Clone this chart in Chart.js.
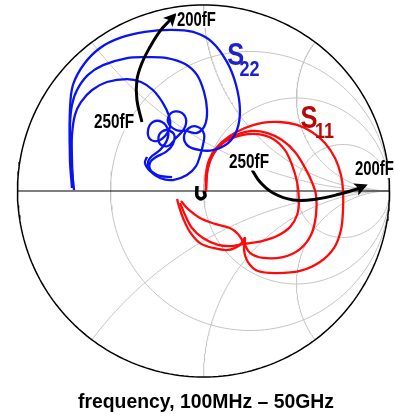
<!DOCTYPE html>
<html>
<head>
<meta charset="utf-8">
<script src="https://cdn.jsdelivr.net/npm/chart.js@4.4.1/dist/chart.umd.min.js"></script>
<style>
  html, body { margin: 0; padding: 0; background: #fff; }
  #smith { display: block; }
</style>
</head>
<body>
<canvas id="smith" width="395" height="419"></canvas>
<script>
// grille de l'abaque de Smith
const resistanceCircles = [1 / 3, 1, 3]
const reactanceArcs = [0.5, 1, 2, -0.5, -1, -2]

// S22 (bleu), trois valeurs de capacite, coefficient de reflexion [re, im]
const s22_200fF = [[-0.696,0.005],[-0.707,0.113],[-0.718,0.274],[-0.718,0.435],[-0.702,0.570],[-0.642,0.683],[-0.556,0.769],[-0.449,0.823],[-0.315,0.855],[-0.180,0.866],[-0.056,0.855],[0.046,0.801],[0.126,0.694],[0.175,0.570],[0.196,0.435],[0.180,0.328],[0.132,0.258],[0.051,0.220],[-0.019,0.220],[-0.083,0.242],[-0.105,0.290],[-0.078,0.339],[-0.030,0.344],[0.003,0.306],[-0.003,0.247],[-0.019,0.188],[-0.040,0.134],[-0.089,0.086],[-0.164,0.059],[-0.234,0.070],[-0.288,0.108],[-0.315,0.151],[-0.304,0.183]]
const s22_225fF = [[-0.707,0.016],[-0.718,0.167],[-0.718,0.355],[-0.707,0.462],[-0.680,0.543],[-0.621,0.624],[-0.540,0.677],[-0.411,0.715],[-0.304,0.720],[-0.196,0.715],[-0.099,0.683],[-0.035,0.624],[0.003,0.532],[0.019,0.435],[0.008,0.355],[-0.035,0.312],[-0.094,0.323],[-0.148,0.328],[-0.191,0.371],[-0.175,0.419],[-0.126,0.425],[-0.094,0.387],[-0.105,0.333],[-0.148,0.285],[-0.191,0.242],[-0.234,0.253],[-0.239,0.301],[-0.202,0.328],[-0.159,0.306],[-0.164,0.253],[-0.202,0.210],[-0.255,0.183],[-0.288,0.151],[-0.282,0.108],[-0.234,0.081],[-0.169,0.075]]
const s22_250fF = [[-0.702,0.022],[-0.707,0.167],[-0.707,0.301],[-0.691,0.409],[-0.659,0.478],[-0.599,0.543],[-0.519,0.586],[-0.411,0.602],[-0.336,0.586],[-0.272,0.543],[-0.218,0.473],[-0.185,0.403],[-0.180,0.344],[-0.202,0.301],[-0.245,0.269],[-0.288,0.280],[-0.298,0.328],[-0.272,0.371],[-0.223,0.371],[-0.191,0.328],[-0.196,0.274],[-0.234,0.220],[-0.277,0.188],[-0.298,0.156],[-0.288,0.113],[-0.245,0.081]]

// S11 (rouge)
const s11_200fF = [[0.013,-0.005],[0.013,0.086],[0.030,0.167],[0.073,0.237],[0.142,0.296],[0.223,0.339],[0.315,0.366],[0.411,0.371],[0.503,0.355],[0.583,0.317],[0.653,0.258],[0.707,0.177],[0.739,0.086],[0.750,0.005],[0.750,-0.102],[0.739,-0.210],[0.702,-0.306],[0.626,-0.382],[0.519,-0.430],[0.395,-0.441],[0.293,-0.430],[0.239,-0.382],[0.218,-0.317],[0.223,-0.253],[0.196,-0.290],[0.132,-0.317],[0.051,-0.306],[-0.019,-0.280],[-0.073,-0.220],[-0.110,-0.145],[-0.132,-0.081],[-0.142,-0.043]]
const s11_225fF = [[0.013,-0.005],[0.019,0.102],[0.046,0.188],[0.099,0.258],[0.175,0.301],[0.261,0.323],[0.341,0.312],[0.422,0.274],[0.492,0.210],[0.546,0.124],[0.583,0.048],[0.605,-0.022],[0.605,-0.129],[0.578,-0.237],[0.519,-0.312],[0.427,-0.355],[0.320,-0.360],[0.250,-0.333],[0.218,-0.280],[0.185,-0.231],[0.142,-0.199],[0.062,-0.177],[-0.019,-0.145],[-0.078,-0.102],[-0.121,-0.054]]
const s11_250fF = [[0.013,-0.005],[0.024,0.124],[0.056,0.204],[0.121,0.269],[0.207,0.301],[0.293,0.306],[0.374,0.280],[0.438,0.220],[0.476,0.140],[0.503,0.048],[0.513,-0.048],[0.503,-0.129],[0.465,-0.194],[0.395,-0.242],[0.315,-0.269],[0.250,-0.280],[0.212,-0.285],[0.153,-0.296],[0.078,-0.290],[-0.003,-0.253],[-0.062,-0.199],[-0.099,-0.129],[-0.126,-0.065]]

// fleches 250fF -> 200fF
const arrowS22 = [[-0.331,0.371],[-0.358,0.489],[-0.358,0.597],[-0.331,0.688],[-0.288,0.774],[-0.234,0.860],[-0.180,0.919],[-0.159,0.941]]
const arrowS11 = [[0.261,0.113],[0.304,0.048],[0.374,-0.011],[0.481,-0.048],[0.610,-0.043],[0.734,-0.016],[0.825,0.011],[0.863,0.027]]
const startMark = [[-0.035,0.027],[-0.035,-0.027],[-0.013,-0.043],[0.008,-0.027],[0.003,0.0]]

const titleText = 'frequency, 100MHz \u2013 50GHz'

const pts = a => a.map(p => ({ x: p[0], y: p[1] }))

// cercles a resistance constante
function rCircle(r) {
  const c = r / (1 + r), rad = 1 / (1 + r), out = []
  for (let i = 0; i <= 180; i++) {
    const t = i / 180 * 2 * Math.PI
    out.push({ x: c + rad * Math.cos(t), y: rad * Math.sin(t) })
  }
  return out
}
// arcs a reactance constante (partie dans le disque)
function xArc(x) {
  const out = []
  for (let i = 0; i <= 150; i++) {
    const th = i / 150 * (Math.PI / 2 - 0.002)
    const r = Math.tan(th)
    const den = (r + 1) * (r + 1) + x * x
    out.push({ x: (r * r + x * x - 1) / den, y: 2 * x / den })
  }
  return out
}
function unitCircle() {
  const out = []
  for (let i = 0; i <= 240; i++) {
    const t = i / 240 * 2 * Math.PI
    out.push({ x: Math.cos(t), y: Math.sin(t) })
  }
  return out
}

const gridStyle = { borderColor: '#c4c4c4', borderWidth: 1, order: 40 }
const datasets = []
resistanceCircles.forEach(r => datasets.push({ data: rCircle(r), ...gridStyle }))
reactanceArcs.forEach(x => datasets.push({ data: xArc(x), ...gridStyle }))
datasets.push({ data: [{ x: -1, y: 0 }, { x: 1, y: 0 }], borderColor: '#000', borderWidth: 1.2, order: 35 })
datasets.push({ data: [{ x: 1, y: 0.035 }, { x: 1, y: -0.035 }], borderColor: '#000', borderWidth: 1.2, order: 35 })
datasets.push({ data: unitCircle(), borderColor: '#000', borderWidth: 1.5, order: 35 })

const trace = (d, col) => ({ data: pts(d), borderColor: col, borderWidth: 2.3, tension: 0.35, order: 20 })
datasets.push(trace(s22_200fF, '#0a14f0'), trace(s22_225fF, '#0a14f0'), trace(s22_250fF, '#0a14f0'))
datasets.push(trace(s11_200fF, '#ff0a0a'), trace(s11_225fF, '#ff0a0a'), trace(s11_250fF, '#ff0a0a'))
datasets.push({ data: pts(arrowS22), borderColor: '#000', borderWidth: 3, tension: 0.4, order: 5, arrow: true })
datasets.push({ data: pts(arrowS11), borderColor: '#000', borderWidth: 3, tension: 0.4, order: 5, arrow: true })
datasets.push({ data: pts(startMark), borderColor: '#000', borderWidth: 3.5, tension: 0.3, order: 5 })

// etiquettes : position en coordonnees du diagramme
const labels = [
  { text: '250fF', x: -0.481, y: 0.368, size: 20, w: 40, color: '#000', box: true },
  { text: '200fF', x: -0.038, y: 0.919, size: 20, w: 39, color: '#000', box: true },
  { text: '250fF', x: 0.245, y: 0.153, size: 20, w: 40, color: '#000', box: true },
  { text: '200fF', x: 0.919, y: 0.113, size: 20, w: 39, color: '#000', box: true },
  { text: 'S', x: 0.174, y: 0.723, size: 31, w: 17, color: '#1e22c8' },
  { text: '22', x: 0.247, y: 0.653, size: 22, w: 20, color: '#1e22c8' },
  { text: 'S', x: 0.567, y: 0.384, size: 31, w: 17, color: '#b40a0a' },
  { text: '11', x: 0.650, y: 0.315, size: 22, w: 19, color: '#b40a0a' }
]

const deco = {
  id: 'deco',
  afterDatasetsDraw(chart) {
    const ctx = chart.ctx
    const sx = chart.scales.x, sy = chart.scales.y
    chart.data.datasets.forEach((ds, i) => {
      if (!ds.arrow) return
      const el = chart.getDatasetMeta(i).data
      const a = el[el.length - 2], b = el[el.length - 1]
      const ang = Math.atan2(b.y - a.y, b.x - a.x)
      ctx.save()
      ctx.translate(b.x, b.y)
      ctx.rotate(ang)
      ctx.fillStyle = '#000'
      ctx.beginPath()
      ctx.moveTo(4, 0)
      ctx.lineTo(-9, -6.5)
      ctx.lineTo(-6, 0)
      ctx.lineTo(-9, 6.5)
      ctx.closePath()
      ctx.fill()
      ctx.restore()
    })
    ctx.save()
    ctx.textAlign = 'center'
    ctx.textBaseline = 'middle'
    labels.forEach(l => {
      ctx.font = 'bold ' + l.size + 'px "Liberation Sans", Arial, sans-serif'
      const k = l.w / ctx.measureText(l.text).width
      const px = sx.getPixelForValue(l.x), py = sy.getPixelForValue(l.y)
      if (l.box) {
        ctx.fillStyle = '#fff'
        ctx.fillRect(px - l.w / 2 - 1, py - 8, l.w + 2, 16)
      }
      ctx.save()
      ctx.translate(px, py)
      ctx.scale(k, 1)
      ctx.fillStyle = l.color
      ctx.fillText(l.text, 0, 0)
      ctx.restore()
    })
    ctx.font = 'bold 20px "Liberation Sans", Arial, sans-serif'
    const k = 256 / ctx.measureText(titleText).width
    ctx.translate(206, 408)
    ctx.scale(k, 1)
    ctx.textBaseline = 'alphabetic'
    ctx.fillStyle = '#000'
    ctx.fillText(titleText, 0, 0)
    ctx.restore()
  }
}

new Chart(document.querySelector('#smith'), {
  type: 'scatter',
  data: { datasets: datasets.map(d => ({ showLine: true, pointRadius: 0, clip: false, ...d })) },
  options: {
    responsive: false,
    animation: false,
    devicePixelRatio: 1,
    layout: { padding: { left: 17.5, right: 5.5, top: 5, bottom: 42 } },
    scales: {
      x: { type: 'linear', min: -1, max: 1, display: false },
      y: { type: 'linear', min: -1, max: 1, display: false }
    },
    plugins: { legend: { display: false }, tooltip: { enabled: false } }
  },
  plugins: [deco]
})
</script>
</body>
</html>
